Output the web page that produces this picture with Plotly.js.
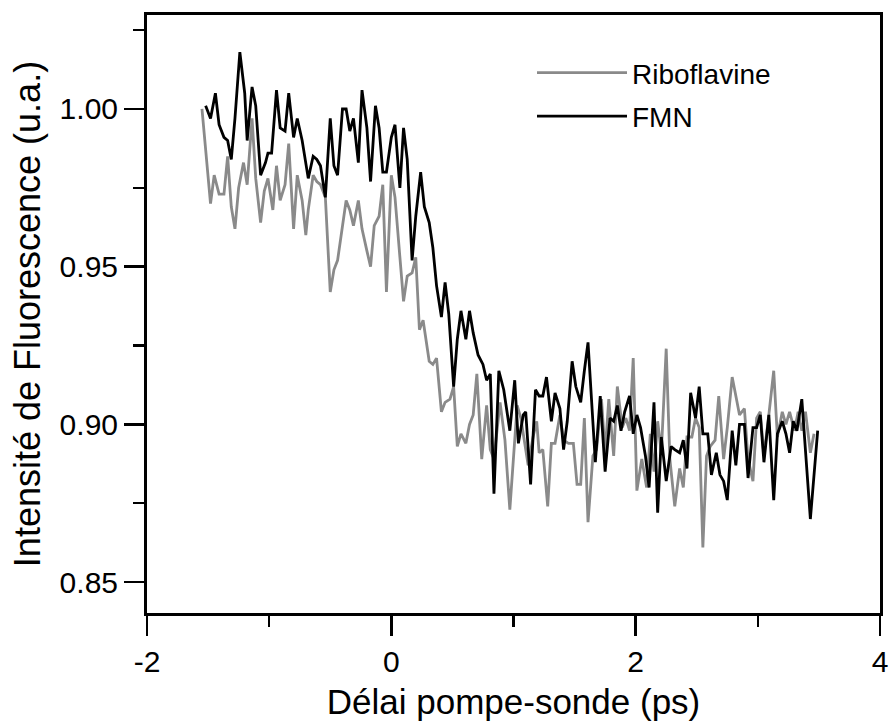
<!DOCTYPE html>
<html>
<head>
<meta charset="utf-8">
<script src="https://cdn.plot.ly/plotly-3.0.1.min.js"></script>
<style>
  html, body { margin: 0; padding: 0; background: #ffffff; }
  #chart { width: 893px; height: 727px; }
</style>
</head>
<body>
<div id="chart"></div>
<script>
// Riboflavine (gray)
const riboX = [-1.55,-1.48,-1.45,-1.41,-1.37,-1.34,-1.31,-1.28,-1.25,-1.21,-1.18,-1.14,-1.11,-1.07,-1.04,-1.01,-0.97,-0.94,-0.91,-0.87,-0.84,-0.80,-0.77,-0.73,-0.70,-0.68,-0.64,-0.61,-0.58,-0.54,-0.50,-0.47,-0.44,-0.40,-0.37,-0.34,-0.31,-0.27,-0.24,-0.20,-0.17,-0.14,-0.10,-0.07,-0.04,0.00,0.03,0.07,0.10,0.13,0.17,0.20,0.23,0.26,0.31,0.34,0.37,0.41,0.44,0.48,0.51,0.54,0.57,0.61,0.64,0.67,0.70,0.74,0.78,0.81,0.84,0.89,0.93,0.97,1.01,1.03,1.06,1.10,1.12,1.16,1.19,1.21,1.24,1.28,1.31,1.34,1.38,1.41,1.45,1.49,1.52,1.55,1.58,1.61,1.65,1.68,1.72,1.75,1.78,1.82,1.85,1.89,1.92,1.95,1.98,2.01,2.05,2.09,2.12,2.15,2.18,2.21,2.25,2.28,2.32,2.36,2.39,2.42,2.46,2.49,2.52,2.55,2.58,2.61,2.65,2.68,2.72,2.75,2.79,2.83,2.85,2.89,2.92,2.96,2.99,3.02,3.05,3.09,3.13,3.16,3.20,3.23,3.26,3.30,3.33,3.36,3.39,3.43,3.46];
const riboY = [1.000,0.970,0.979,0.973,0.973,0.985,0.969,0.962,0.975,0.983,0.976,0.997,0.978,0.964,0.974,0.978,0.968,0.982,0.971,0.976,0.989,0.962,0.979,0.971,0.960,0.968,0.979,0.977,0.976,0.972,0.942,0.949,0.952,0.963,0.971,0.968,0.963,0.971,0.962,0.955,0.950,0.963,0.966,0.976,0.942,0.979,0.972,0.953,0.939,0.947,0.948,0.953,0.930,0.933,0.920,0.919,0.921,0.904,0.907,0.908,0.912,0.893,0.897,0.894,0.900,0.903,0.916,0.889,0.906,0.892,0.889,0.907,0.895,0.873,0.894,0.906,0.902,0.891,0.887,0.896,0.901,0.891,0.892,0.874,0.894,0.894,0.903,0.895,0.894,0.894,0.881,0.881,0.902,0.869,0.890,0.892,0.908,0.891,0.908,0.890,0.912,0.899,0.902,0.898,0.921,0.879,0.889,0.880,0.897,0.885,0.901,0.891,0.924,0.889,0.874,0.886,0.880,0.896,0.896,0.902,0.899,0.861,0.890,0.893,0.895,0.909,0.889,0.899,0.915,0.907,0.903,0.905,0.889,0.882,0.902,0.904,0.890,0.903,0.917,0.896,0.904,0.900,0.904,0.898,0.904,0.898,0.904,0.891,0.897];

// FMN (black)
const fmnX = [-1.52,-1.48,-1.44,-1.41,-1.37,-1.34,-1.31,-1.28,-1.24,-1.20,-1.18,-1.14,-1.11,-1.07,-1.03,-1.01,-0.98,-0.94,-0.91,-0.87,-0.84,-0.80,-0.77,-0.73,-0.68,-0.64,-0.61,-0.58,-0.54,-0.50,-0.47,-0.44,-0.40,-0.37,-0.34,-0.31,-0.27,-0.24,-0.20,-0.17,-0.13,-0.10,-0.07,-0.04,0.00,0.03,0.07,0.10,0.13,0.17,0.20,0.24,0.27,0.31,0.34,0.37,0.41,0.44,0.47,0.51,0.54,0.57,0.61,0.64,0.67,0.71,0.75,0.78,0.81,0.84,0.88,0.92,0.97,1.01,1.04,1.08,1.10,1.14,1.18,1.21,1.24,1.27,1.31,1.34,1.38,1.41,1.44,1.48,1.51,1.55,1.58,1.61,1.67,1.71,1.75,1.79,1.82,1.85,1.88,1.91,1.95,1.98,2.01,2.04,2.08,2.11,2.15,2.18,2.21,2.25,2.29,2.32,2.36,2.39,2.42,2.45,2.49,2.52,2.55,2.59,2.62,2.66,2.69,2.72,2.75,2.79,2.82,2.85,2.89,2.92,2.96,2.99,3.02,3.05,3.09,3.13,3.16,3.20,3.23,3.26,3.29,3.32,3.36,3.43,3.49];
const fmnY = [1.001,0.997,1.005,0.995,0.991,0.990,0.984,0.997,1.018,1.005,0.990,1.007,1.001,0.979,0.983,0.986,0.986,1.006,0.994,0.993,1.005,0.991,0.997,0.990,0.978,0.985,0.984,0.982,0.972,0.997,0.982,0.979,1.000,1.000,0.993,0.997,0.983,1.006,0.994,0.977,1.001,0.994,0.980,0.980,0.991,0.995,0.975,0.994,0.984,0.952,0.966,0.980,0.969,0.964,0.956,0.944,0.934,0.945,0.935,0.912,0.927,0.936,0.927,0.936,0.929,0.922,0.919,0.914,0.916,0.878,0.917,0.911,0.898,0.914,0.894,0.903,0.904,0.881,0.911,0.909,0.909,0.915,0.901,0.910,0.905,0.892,0.901,0.920,0.912,0.907,0.917,0.926,0.888,0.909,0.885,0.902,0.901,0.906,0.898,0.904,0.909,0.897,0.903,0.899,0.890,0.880,0.907,0.872,0.896,0.882,0.893,0.892,0.891,0.895,0.886,0.910,0.902,0.912,0.897,0.897,0.884,0.891,0.884,0.882,0.876,0.898,0.887,0.900,0.900,0.883,0.899,0.899,0.903,0.888,0.903,0.876,0.897,0.901,0.897,0.891,0.901,0.898,0.908,0.870,0.898];

const xTickVals = [-2, 0, 2, 4];
const xTickText = ['-2', '0', '2', '4'];
const xMinorVals = [-1, 1, 3];
const yTickVals = [0.85, 0.90, 0.95, 1.00];
const yTickText = ['0.85', '0.90', '0.95', '1.00'];
const yMinorVals = [0.875, 0.925, 0.975, 1.025];

const FONT = 'Liberation Sans, Arial, sans-serif';

const traces = [
  {
    x: riboX, y: riboY, type: 'scatter', mode: 'lines', name: 'Riboflavine',
    legendgroup: 'a',
    line: { color: '#8a8a8a', width: 2.8 }
  },
  {
    x: fmnX, y: fmnY, type: 'scatter', mode: 'lines', name: 'FMN',
    legendgroup: 'b',
    line: { color: '#000000', width: 2.8 }
  }
];

const layout = {
  width: 893, height: 727,
  paper_bgcolor: '#ffffff', plot_bgcolor: '#ffffff',
  margin: { l: 147, r: 13, t: 15, b: 114, pad: 0 },
  showlegend: true,
  font: { family: FONT, color: '#000000' },
  legend: {
    x: 0.5, y: 1, xref: 'paper', yref: 'paper',
    xanchor: 'left', yanchor: 'top',
    bgcolor: 'rgba(0,0,0,0)', borderwidth: 0,
    font: { family: FONT, size: 28, color: '#000000' },
    itemwidth: 90, traceorder: 'grouped', tracegroupgap: 4
  },
  xaxis: {
    range: [-2, 4], autorange: false,
    showgrid: false, zeroline: false,
    showline: true, mirror: true, linecolor: '#000000', linewidth: 3,
    ticks: 'outside', ticklen: 20, tickwidth: 2.5, tickcolor: '#000000',
    tickmode: 'array', tickvals: xTickVals, ticktext: xTickText,
    tickfont: { family: FONT, size: 30, color: '#000000' },
    minor: { tickmode: 'array', tickvals: xMinorVals, ticks: 'outside', ticklen: 11, tickwidth: 2.5, tickcolor: '#000000', showgrid: false },
    title: { text: 'Délai pompe-sonde (ps)', font: { family: FONT, size: 35, color: '#000000' }, standoff: 13 }
  },
  yaxis: {
    range: [0.8402, 1.0298], autorange: false,
    showgrid: false, zeroline: false,
    showline: true, mirror: true, linecolor: '#000000', linewidth: 3,
    ticks: 'outside', ticklen: 20, tickwidth: 2.5, tickcolor: '#000000',
    tickmode: 'array', tickvals: yTickVals, ticktext: yTickText,
    tickfont: { family: FONT, size: 30, color: '#000000' },
    minor: { tickmode: 'array', tickvals: yMinorVals, ticks: 'outside', ticklen: 11, tickwidth: 2.5, tickcolor: '#000000', showgrid: false },
    title: { text: 'Intensité de Fluorescence (u.a.)', font: { family: FONT, size: 36, color: '#000000' }, standoff: 9 }
  }
};
// legend x in paper fraction: line starts at ~537px
layout.legend.x = (537 - 147 - 5) / (893 - 147 - 13);
layout.legend.y = 1 - (48 - 15) / (727 - 15 - 114);

Plotly.newPlot('chart', traces, layout, { staticPlot: true, displayModeBar: false });
</script>
</body>
</html>
